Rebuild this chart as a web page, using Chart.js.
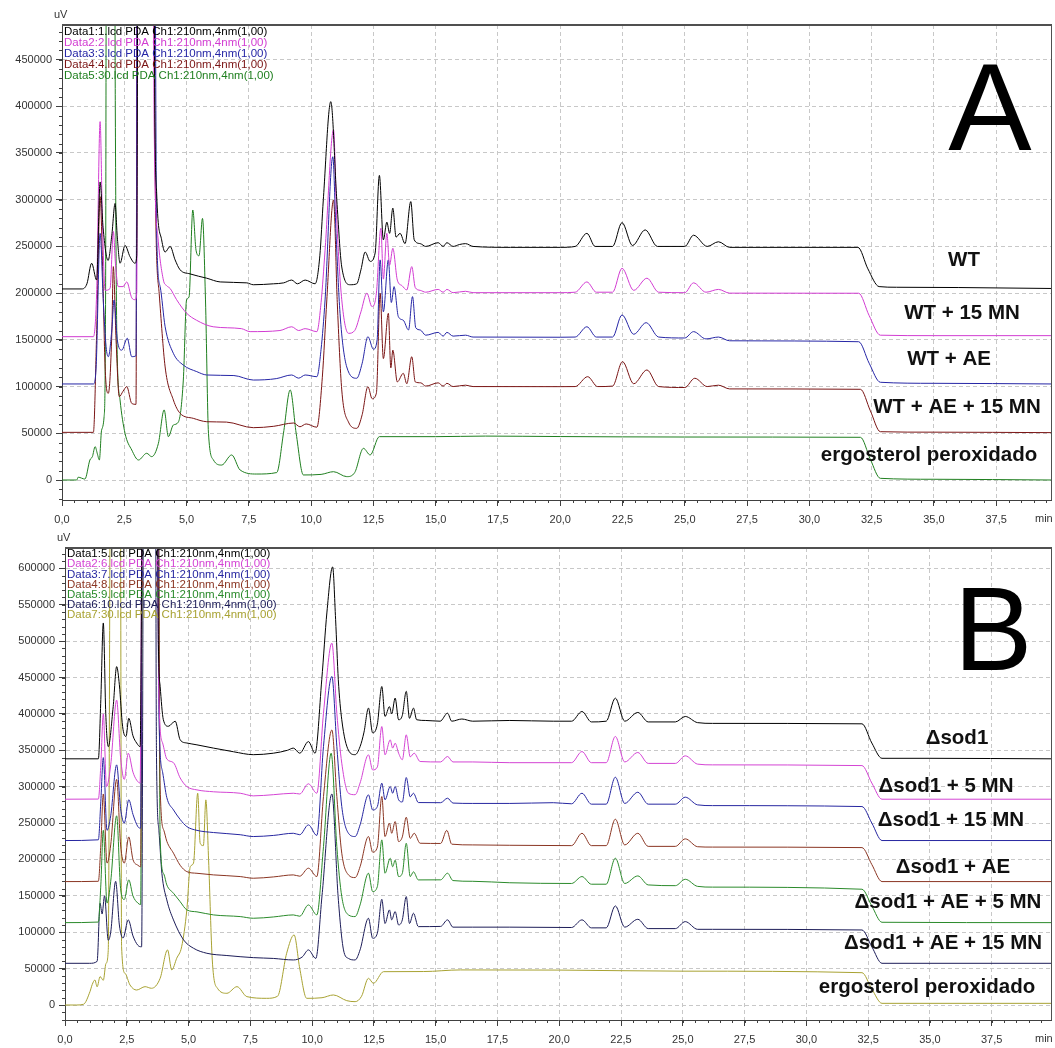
<!DOCTYPE html>
<html>
<head>
<meta charset="utf-8">
<script src="https://cdn.jsdelivr.net/npm/chart.js@4.4.1/dist/chart.umd.min.js"></script>
<style>
  body { margin: 0; background: #fff; }
  canvas { position: absolute; left: 0; }
</style>
</head>
<body>
<canvas id="chartA" width="1055" height="530" style="top:0;width:1055px;height:530px"></canvas>
<canvas id="chartB" width="1055" height="518" style="top:530px;width:1055px;height:518px"></canvas>
<script>
// time (min), signal (uV)

// ---- panel A ----
const wtA = [[0,204500],[0.8,204500],[1.0,210000],[1.19,232000],[1.39,214000],[1.53,319000],[1.65,270000],[1.85,235000],[2.0,262000],[2.13,296000],[2.22,260000],[2.33,232000],[2.53,251000],[2.73,239000],[2.93,232000],[3.0,240000],[3.08,900000],[3.65,900000],[3.72,420000],[3.8,307000],[4.0,257000],[4.14,244000],[4.34,250000],[4.54,235600],[4.74,225000],[5.14,220600],[5.81,216000],[6.35,212000],[7.42,211000],[7.68,209000],[8.49,210000],[8.9,211000],[9.22,214000],[9.45,210000],[9.76,214000],[10.16,210000],[10.35,240000],[10.49,300000],[10.79,405000],[11.03,300000],[11.23,228000],[11.57,209000],[11.83,210000],[12.0,225000],[12.17,244000],[12.37,234000],[12.57,243000],[12.74,326000],[12.9,257000],[13.04,276000],[13.15,264000],[13.28,291000],[13.41,260000],[13.57,264000],[13.77,253000],[14.0,298000],[14.14,257000],[14.38,253000],[14.6,250000],[15.1,254000],[15.3,250000],[15.45,254000],[15.7,250000],[15.95,252000],[16.2,253000],[16.5,250000],[18.0,249000],[20.0,249000],[20.6,250000],[21.07,264000],[21.4,250000],[22.1,250000],[22.48,275500],[22.9,251000],[23.41,267700],[23.9,250000],[25.0,250000],[25.35,262000],[25.9,250000],[26.35,255000],[26.8,249000],[31.95,249000],[32.35,226000],[32.8,207000],[33.5,206300],[36,206000],[39.7,205000]];
const wt15A = [[0,153400],[1.26,153400],[1.39,200000],[1.53,383600],[1.62,280000],[1.73,203000],[1.93,205000],[2.06,266000],[2.15,230000],[2.26,207000],[2.45,207000],[2.6,212000],[2.8,195000],[2.93,193000],[3.0,200000],[3.06,900000],[3.62,900000],[3.7,380000],[3.85,260000],[4.07,214000],[4.2,208000],[4.34,205000],[4.6,193000],[5.0,178600],[5.4,171000],[6.07,164000],[7.2,162000],[7.55,158800],[8.75,160000],[9.22,164000],[9.5,160000],[9.76,162000],[10.23,158800],[10.4,190000],[10.56,246000],[10.9,374700],[11.03,278000],[11.23,193000],[11.5,157000],[11.75,160000],[12.0,180000],[12.24,200000],[12.44,185600],[12.62,200000],[12.8,269500],[12.9,215000],[13.04,264000],[13.15,230000],[13.28,248000],[13.46,214000],[13.65,208000],[13.84,203400],[14.04,228400],[14.18,206000],[14.38,203000],[14.6,201000],[15.1,204000],[15.3,201000],[15.45,204000],[15.7,200500],[16.2,202000],[16.5,200500],[20.0,200500],[20.6,201000],[21.07,212000],[21.45,201000],[22.1,201000],[22.48,226600],[22.95,203000],[23.48,216000],[23.95,201000],[25.0,200500],[25.35,211000],[25.85,201000],[26.35,204000],[26.8,200000],[31.98,199900],[32.4,176000],[32.85,155000],[35,154500],[39.7,154500]];
const wtAeA = [[0,102800],[1.26,102800],[1.37,121000],[1.53,264000],[1.66,190000],[1.77,142700],[1.86,132000],[2.0,160600],[2.09,192700],[2.22,150000],[2.4,139000],[2.62,151700],[2.8,132000],[2.97,133000],[3.04,900000],[3.68,900000],[3.8,264000],[3.94,207000],[4.14,164000],[4.47,135600],[4.87,123000],[5.41,116000],[5.81,112400],[6.9,111800],[7.68,107000],[8.6,108500],[9.22,112400],[9.5,109000],[9.76,112400],[10.23,110600],[10.4,140000],[10.56,192700],[10.87,346000],[11.0,264000],[11.16,178400],[11.43,121000],[11.83,108900],[12.05,125000],[12.28,153400],[12.5,140000],[12.65,150000],[12.77,235600],[12.9,180000],[13.1,235600],[13.22,190000],[13.33,207000],[13.5,175000],[13.7,171000],[13.91,160600],[14.07,196300],[14.2,163000],[14.38,160600],[14.6,155000],[15.1,158000],[15.3,154000],[15.45,158000],[15.7,154000],[16.2,155000],[16.5,153000],[20.0,152800],[20.6,153000],[21.07,164000],[21.45,153000],[22.1,153000],[22.48,176700],[22.95,156000],[23.45,168400],[23.95,153000],[25.0,152000],[25.35,158800],[25.85,151000],[26.35,153000],[26.8,149000],[31.98,148000],[32.4,125000],[32.85,104600],[35,103500],[39.7,102800]];
const wtAe15A = [[0,51000],[1.26,51000],[1.39,157000],[1.53,303300],[1.63,228400],[1.73,121000],[1.86,92800],[2.0,157000],[2.06,228400],[2.17,150000],[2.3,89200],[2.45,95000],[2.6,99900],[2.8,82000],[2.97,81000],[3.04,900000],[3.67,900000],[3.72,380000],[3.9,200000],[4.14,121000],[4.47,85700],[4.74,71400],[5.27,66000],[5.81,62400],[6.6,62000],[7.68,56000],[8.5,57500],[9.3,61000],[9.55,57000],[9.8,60000],[10.23,56500],[10.45,110000],[10.63,192700],[10.9,299800],[11.05,190000],[11.23,96400],[11.5,62000],[11.83,55300],[12.05,70000],[12.28,99900],[12.45,87000],[12.62,93000],[12.77,199900],[12.9,130000],[13.1,178400],[13.2,120000],[13.28,139000],[13.46,105000],[13.7,114200],[13.84,103000],[14.04,132000],[14.18,105000],[14.4,104000],[14.6,100500],[15.1,104000],[15.3,100500],[15.45,103500],[15.7,100000],[16.2,101500],[16.5,100000],[20.0,99900],[20.6,100000],[21.1,110600],[21.5,100000],[22.1,100500],[22.5,126700],[22.95,103000],[23.48,117800],[23.95,100000],[25.0,99000],[25.4,108900],[25.9,100000],[26.35,101500],[26.8,97500],[32.05,97100],[32.45,74000],[32.85,51700],[35,51200],[39.7,50700]];
const ergoA = [[0,0],[0.59,0],[0.65,3000],[0.92,1000],[1.12,21400],[1.22,25000],[1.33,35700],[1.42,28000],[1.5,21400],[1.59,53500],[1.69,67800],[1.75,200000],[1.8,900000],[2.08,900000],[2.14,400000],[2.2,157000],[2.33,85700],[2.53,50000],[2.8,32100],[3.07,21400],[3.4,28600],[3.6,25000],[3.87,39300],[4.1,75000],[4.27,46400],[4.47,58900],[4.67,62000],[4.87,107000],[5.0,192700],[5.1,196000],[5.25,289000],[5.38,246000],[5.5,240000],[5.64,280000],[5.76,192700],[5.88,50000],[6.08,21400],[6.41,16000],[6.81,26800],[7.15,10700],[7.82,6400],[8.62,8000],[8.89,50000],[9.16,96400],[9.4,50000],[9.69,5400],[10.4,6000],[10.9,8900],[11.43,3600],[11.75,8000],[12.1,33900],[12.37,26800],[12.74,46400],[15.0,46400],[17.0,47000],[20.0,46500],[25.0,46000],[32.05,45700],[32.45,22000],[32.85,1800],[35,800],[39.7,0]];

// ---- panel B ----
const sodB = [[0,338300],[1.35,338300],[1.45,420000],[1.55,525000],[1.65,400000],[1.75,355000],[1.95,410000],[2.09,465000],[2.2,440000],[2.33,383000],[2.47,369000],[2.58,394000],[2.75,370000],[2.9,360000],[3.04,355000],[3.17,900000],[3.71,900000],[3.78,495000],[3.85,438000],[3.98,392000],[4.18,383000],[4.46,390000],[4.66,364400],[4.93,360000],[5.34,357500],[6.01,353000],[6.82,348000],[7.62,344000],[8.43,346000],[9.0,350000],[9.24,353000],[9.5,346000],[9.85,362000],[10.12,346000],[10.39,447000],[10.6,540000],[10.83,602000],[10.95,530000],[11.06,447000],[11.2,392000],[11.47,350000],[11.74,344000],[11.94,355000],[12.1,375000],[12.28,408000],[12.45,374000],[12.64,386000],[12.82,437700],[12.95,396500],[13.13,410000],[13.22,400000],[13.36,421700],[13.5,392000],[13.65,398000],[13.81,431000],[13.94,394000],[14.1,408000],[14.23,392000],[14.6,391000],[15.18,390000],[15.48,401000],[15.65,390000],[16.06,393000],[16.5,390000],[18.0,391000],[19.76,390000],[20.5,390000],[20.92,403300],[21.3,389000],[21.9,390000],[22.27,421700],[22.65,390000],[23.18,402000],[23.6,389000],[24.7,389000],[25.1,396500],[25.6,388000],[26.2,387000],[32.25,386400],[32.65,360000],[33.06,339000],[35,339000],[39.9,338300]];
const sod5B = [[0,282800],[1.35,283000],[1.45,330000],[1.55,400000],[1.68,300000],[1.85,330000],[2.09,419000],[2.25,340000],[2.4,310000],[2.56,346000],[2.75,320000],[2.9,309000],[3.04,305000],[3.15,900000],[3.71,900000],[3.8,420000],[3.95,360000],[4.12,338000],[4.39,333000],[4.66,312000],[4.93,300200],[5.34,295600],[6.01,293000],[7.09,291000],[7.62,287400],[8.43,289000],[9.24,291000],[9.5,290000],[9.85,304000],[10.19,291000],[10.46,401000],[10.8,497300],[11.0,401000],[11.2,332300],[11.47,291000],[11.74,289000],[11.94,305000],[12.28,343800],[12.45,323000],[12.64,327000],[12.82,382700],[12.95,343800],[13.16,364400],[13.26,353000],[13.36,359800],[13.5,346000],[13.65,337000],[13.81,371300],[13.97,341000],[14.13,346000],[14.37,334600],[15.2,334000],[15.48,341500],[15.7,334000],[16.5,334000],[18,333000],[20.5,333000],[20.92,348300],[21.3,333000],[21.9,333000],[22.27,369000],[22.65,334000],[23.18,347000],[23.6,332000],[24.7,332000],[25.1,342400],[25.6,331000],[26.2,330000],[32.25,329000],[32.65,305000],[33.06,282800],[39.9,282800]];
const sod15B = [[0,226000],[1.35,227000],[1.45,280000],[1.55,340000],[1.7,240000],[1.85,260000],[2.09,330000],[2.25,270000],[2.4,250000],[2.58,282000],[2.75,262000],[2.95,245000],[3.06,243000],[3.15,900000],[3.71,900000],[3.8,400000],[3.95,320000],[4.12,285000],[4.39,268100],[4.66,255000],[4.93,245200],[5.34,240000],[6.01,237000],[7.09,234000],[7.62,231500],[8.43,233000],[9.24,236000],[9.5,234000],[9.85,247500],[10.19,233000],[10.46,355300],[10.8,451500],[11.0,355300],[11.2,272700],[11.47,236000],[11.74,231500],[11.94,247500],[12.28,288800],[12.45,268000],[12.64,272700],[12.82,304800],[12.95,282000],[13.16,300200],[13.26,291000],[13.36,300200],[13.5,282000],[13.65,279000],[13.81,312600],[13.97,286000],[14.1,291000],[14.3,278200],[15.2,278000],[15.48,284200],[15.7,277500],[16.5,277000],[18,277000],[19.76,278000],[20.5,276500],[20.92,291000],[21.3,276000],[21.9,276000],[22.27,313000],[22.65,277000],[23.18,292400],[23.6,276000],[24.7,276000],[25.1,285600],[25.6,275000],[26.2,274000],[32.25,272700],[32.65,250000],[33.06,226000],[39.9,226000]];
const sodAeB = [[0,169600],[1.35,170000],[1.45,220000],[1.55,290000],[1.7,195000],[1.85,220000],[2.09,310000],[2.25,220000],[2.4,195000],[2.58,231000],[2.75,200000],[2.95,192000],[3.06,190000],[3.15,900000],[3.75,900000],[3.85,300000],[4.0,240000],[4.12,225000],[4.39,208600],[4.66,192000],[4.93,183300],[5.34,181000],[6.01,178800],[7.09,176500],[7.62,174200],[8.43,176000],[9.24,178800],[9.5,177000],[9.85,188000],[10.19,176500],[10.46,286500],[10.8,378000],[11.0,286500],[11.2,208600],[11.47,178800],[11.74,175100],[11.94,190000],[12.28,231500],[12.45,210000],[12.64,217000],[12.82,286500],[12.95,231500],[13.13,249800],[13.22,236000],[13.36,252100],[13.5,224600],[13.65,231000],[13.81,258000],[13.97,229000],[14.13,236000],[14.37,222300],[15.2,222000],[15.45,240000],[15.65,221000],[16.5,220000],[18,219500],[20.5,219000],[20.92,236000],[21.3,219000],[21.9,219000],[22.27,255300],[22.65,220000],[23.18,236000],[23.6,218000],[24.7,218000],[25.1,228300],[25.6,217500],[26.2,217000],[32.25,216300],[32.65,193000],[33.06,169600],[39.9,169600]];
const sodAe5B = [[0,113200],[1.35,114000],[1.45,165000],[1.55,240000],[1.7,140000],[1.85,170000],[2.09,260000],[2.25,160000],[2.4,145000],[2.58,172000],[2.75,150000],[2.95,140000],[3.06,138000],[3.15,900000],[3.75,900000],[3.85,230000],[4.0,180000],[4.12,165000],[4.39,153600],[4.66,142000],[4.93,130700],[5.34,128000],[6.01,123800],[7.09,121500],[7.62,119200],[8.43,121000],[9.24,123800],[9.5,122000],[9.85,137500],[10.19,123800],[10.46,217700],[10.77,346000],[11.0,217700],[11.2,149000],[11.47,123800],[11.74,121500],[11.94,137500],[12.28,181100],[12.45,155900],[12.64,162700],[12.82,226900],[12.95,181100],[13.16,201700],[13.26,190000],[13.36,199000],[13.5,176500],[13.65,181000],[13.81,222300],[13.97,176500],[14.1,183000],[14.3,171900],[15.2,172000],[15.48,181100],[15.7,171000],[16.5,170000],[18,168000],[20.5,167000],[20.92,176500],[21.3,166000],[21.9,166000],[22.27,201700],[22.65,167000],[23.18,177400],[23.6,165000],[24.7,164000],[25.1,172800],[25.6,163000],[26.2,162000],[32.25,159100],[32.65,136000],[33.06,113700],[39.9,113200]];
const sodAe15B = [[0,57300],[1.0,57300],[1.3,60000],[1.42,140000],[1.5,125000],[1.6,150000],[1.75,89000],[1.85,100000],[2.05,170000],[2.2,110000],[2.35,92000],[2.56,117000],[2.75,95000],[2.95,82000],[3.1,80000],[3.2,900000],[3.65,900000],[3.7,350000],[3.8,240000],[3.92,181100],[4.12,144400],[4.39,116900],[4.8,89400],[5.2,78000],[5.74,71100],[6.55,68000],[7.62,65100],[8.43,64000],[9.24,61900],[9.6,66000],[9.85,75700],[10.15,64000],[10.4,150000],[10.8,290000],[11.05,150000],[11.27,75700],[11.47,64000],[11.74,61900],[11.94,75700],[12.28,119200],[12.45,91700],[12.64,98600],[12.82,145300],[12.95,112000],[13.13,130700],[13.22,117000],[13.36,128400],[13.5,110000],[13.65,117000],[13.81,149000],[13.94,112000],[14.1,126100],[14.3,107700],[15.2,108000],[15.48,117000],[15.7,107000],[16.5,107000],[18,107000],[20.5,106500],[20.92,117000],[21.3,106000],[21.9,106000],[22.27,136200],[22.65,107000],[23.18,117800],[23.6,105000],[24.7,105000],[25.1,114600],[25.6,104000],[26.2,104000],[32.25,103100],[32.65,80000],[33.06,57300],[39.9,57300]];
const ergoB = [[0,0],[0.47,0],[0.75,1000],[1.01,18300],[1.1,28000],[1.21,34400],[1.3,25000],[1.42,39000],[1.55,34000],[1.66,57300],[1.75,75000],[1.86,900000],[2.23,900000],[2.29,80200],[2.43,43600],[2.63,27500],[2.9,20600],[3.24,25200],[3.5,23000],[3.85,36700],[4.15,75700],[4.32,48200],[4.52,64200],[4.72,80000],[4.93,130700],[5.07,190200],[5.2,195000],[5.37,291000],[5.47,222300],[5.6,219000],[5.7,281900],[5.81,200000],[5.96,61900],[6.17,23000],[6.55,16100],[6.96,25200],[7.36,11500],[8.16,9200],[8.6,12000],[8.97,71100],[9.27,96300],[9.5,50000],[9.78,9200],[10.4,10000],[10.86,13800],[11.4,6000],[11.74,4600],[12.0,12000],[12.28,36700],[12.48,29800],[12.89,45800],[14.5,46000],[16,48200],[20,48000],[25,46500],[32.25,44400],[32.65,22000],[33.06,2300],[39.9,2300]];

// tick values
const xTicks = [0, 2.5, 5, 7.5, 10, 12.5, 15, 17.5, 20, 22.5, 25, 27.5, 30, 32.5, 35, 37.5];
const yTicksA = [0, 50000, 100000, 150000, 200000, 250000, 300000, 350000, 400000, 450000];
const yTicksB = [0, 50000, 100000, 150000, 200000, 250000, 300000, 350000, 400000, 450000, 500000, 550000, 600000];

// file legends and sample names
const legendA = ["Data1:1.lcd PDA Ch1:210nm,4nm(1,00)", "Data2:2.lcd PDA Ch1:210nm,4nm(1,00)", "Data3:3.lcd PDA Ch1:210nm,4nm(1,00)", "Data4:4.lcd PDA Ch1:210nm,4nm(1,00)", "Data5:30.lcd PDA Ch1:210nm,4nm(1,00)"];
const namesA = ["WT", "WT + 15 MN", "WT + AE", "WT + AE + 15 MN", "ergosterol peroxidado"];
const legendB = ["Data1:5.lcd PDA Ch1:210nm,4nm(1,00)", "Data2:6.lcd PDA Ch1:210nm,4nm(1,00)", "Data3:7.lcd PDA Ch1:210nm,4nm(1,00)", "Data4:8.lcd PDA Ch1:210nm,4nm(1,00)", "Data5:9.lcd PDA Ch1:210nm,4nm(1,00)", "Data6:10.lcd PDA Ch1:210nm,4nm(1,00)", "Data7:30.lcd PDA Ch1:210nm,4nm(1,00)"];
const namesB = ["Δsod1", "Δsod1 + 5 MN", "Δsod1 + 15 MN", "Δsod1 + AE", "Δsod1 + AE + 5 MN", "Δsod1 + AE + 15 MN", "ergosterol peroxidado"];

const colorsA = ["#000000", "#d23cd2", "#2626a6", "#7a1414", "#1f7f1f"];
const colorsB = ["#000000", "#d444d4", "#2626a0", "#8a3522", "#2a8a2a", "#1c1c58", "#a8a232"];

const FONT = "'Liberation Sans', Arial, sans-serif";

const chromExtras = {
    id: "chromExtras",
    afterDraw(chart, args, o) {
        const { ctx, chartArea: a, scales: { x, y } } = chart;
        ctx.save();
        // frame (top and right)
        ctx.strokeStyle = "#505050";
        ctx.lineWidth = 2;
        ctx.beginPath(); ctx.moveTo(a.left, a.top); ctx.lineTo(a.right + 1, a.top); ctx.stroke();
        ctx.lineWidth = 1;
        ctx.beginPath(); ctx.moveTo(a.right + 0.5, a.top); ctx.lineTo(a.right + 0.5, a.bottom); ctx.stroke();

        // minor ticks
        ctx.strokeStyle = "#404040";
        ctx.beginPath();
        for (let v = 0; v <= x.max; v += 0.5) {
            const px = Math.round(x.getPixelForValue(v)) + 0.5;
            ctx.moveTo(px, a.bottom); ctx.lineTo(px, a.bottom + 3);
        }
        for (let v = Math.ceil(y.min / 10000) * 10000; v <= y.max; v += 10000) {
            const py = Math.round(y.getPixelForValue(v)) + 0.5;
            ctx.moveTo(a.left - 3, py); ctx.lineTo(a.left, py);
        }
        ctx.stroke();

        // file legend
        ctx.font = o.legendFont;
        ctx.textAlign = "left";
        ctx.textBaseline = "middle";
        o.legend.forEach((t, i) => {
            ctx.fillStyle = o.colors[i];
            ctx.fillText(t, a.left + 2, a.top + o.legendTop + i * o.legendStep);
        });

        // sample names
        ctx.font = "bold 20.5px " + FONT;
        ctx.textAlign = "center";
        ctx.fillStyle = "#111";
        o.names.forEach((t, i) => {
            const p = o.namePos[i];
            ctx.fillText(t, p[0], p[1]);
        });

        // panel letter
        ctx.font = o.letterSize + "px " + FONT;
        ctx.textBaseline = "alphabetic";
        ctx.fillStyle = "#000";
        ctx.fillText(o.letter, o.letterPos[0], o.letterPos[1]);

        // units
        ctx.font = "11px " + FONT;
        ctx.fillStyle = "#333";
        ctx.textBaseline = "middle";
        ctx.textAlign = "left";
        ctx.fillText("uV", a.left - 8, a.top - 10);
        ctx.fillText("min", a.right - 16, a.bottom + 19);
        ctx.restore();
    }
};

function buildChart(id, series, colors, yTicks, yMin, yMax, xMax, axisWidth, axisHeight, padTop, extras) {
    const ctx = document.getElementById(id).getContext("2d");
    return new Chart(ctx, {
        type: "line",
        data: {
            datasets: series.map((s, i) => ({
                label: extras.names[i],
                data: s.map(p => ({ x: p[0], y: p[1] })),
                borderColor: colors[i],
                borderWidth: 1,
                pointRadius: 0,
                cubicInterpolationMode: "monotone",
                fill: false,
            })),
        },
        options: {
            responsive: false,
            animation: false,
            devicePixelRatio: 1,
            layout: { padding: { top: padTop, right: 4, left: 0, bottom: 0 } },
            plugins: {
                legend: { display: false },
                tooltip: { enabled: false },
                chromExtras: extras,
            },
            scales: {
                x: {
                    type: "linear",
                    min: 0,
                    max: xMax,
                    afterBuildTicks: s => { s.ticks = xTicks.map(v => ({ value: v })); },
                    afterFit: s => { s.height = axisHeight; },
                    ticks: {
                        autoSkip: false,
                        maxRotation: 0,
                        padding: 7,
                        color: "#333",
                        font: { family: FONT, size: 11 },
                        callback: v => v.toFixed(1).replace(".", ","),
                    },
                    grid: { color: "#c8c8c8", tickLength: 6, tickColor: "#404040" },
                    border: { color: "#404040", width: 1, dash: [4, 3] },
                },
                y: {
                    min: yMin,
                    max: yMax,
                    afterBuildTicks: s => { s.ticks = yTicks.map(v => ({ value: v })); },
                    afterFit: s => { s.width = axisWidth; },
                    ticks: {
                        padding: 4,
                        color: "#333",
                        font: { family: FONT, size: 11 },
                        callback: v => String(v),
                    },
                    grid: { color: "#c8c8c8", tickLength: 6, tickColor: "#404040" },
                    border: { color: "#404040", width: 1, dash: [4, 3] },
                },
            },
        },
        plugins: [chromExtras],
    });
}

document.addEventListener("DOMContentLoaded", () => {
    buildChart("chartA", [wtA, wt15A, wtAeA, wtAe15A, ergoA], colorsA, yTicksA, -21400, 487000, 39.7, 62, 30, 25, {
        legend: legendA, colors: colorsA, legendFont: "11.5px " + FONT, legendTop: 7, legendStep: 11,
        names: namesA,
        namePos: [[964, 260], [962, 313], [949, 359], [957, 407], [929, 455]],
        letter: "A", letterSize: 125, letterPos: [990, 150],
    });
    buildChart("chartB", [sodB, sod5B, sod15B, sodAeB, sodAe5B, sodAe15B, ergoB], colorsB, yTicksB, -20600, 628000, 39.9, 65, 28, 18, {
        legend: legendB, colors: colorsB, legendFont: "11.5px " + FONT, legendTop: 6, legendStep: 10.2,
        names: namesB,
        namePos: [[957, 208], [946, 256], [951, 290], [953, 337], [948, 372], [943, 413], [927, 457]],
        letter: "B", letterSize: 118, letterPos: [993, 140],
    });
});
</script>
</body>
</html>
